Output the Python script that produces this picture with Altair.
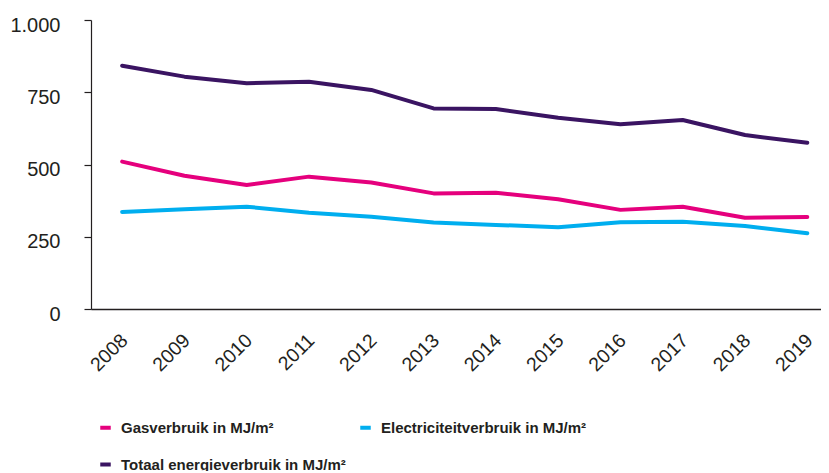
import altair as alt
import pandas as pd

years = list(range(2008, 2020))
gas = [510, 461, 429, 458, 438, 400, 402, 380, 343, 354, 316, 318]
elec = [336, 345, 354, 333, 319, 299, 291, 283, 300, 302, 287, 262]
totaal = [842, 804, 781, 786, 758, 694, 692, 662, 639, 654, 602, 575]

series_names = ["Gasverbruik in MJ/m²", "Electriciteitverbruik in MJ/m²", "Totaal energieverbruik in MJ/m²"]
series_colors = ["#E5007D", "#00AEEF", "#3A1462"]
# legend is filled column by column: Gas, Totaal | Electriciteit
legend_order = [series_names[0], series_names[2], series_names[1]]
legend_colors = [series_colors[0], series_colors[2], series_colors[1]]

rows = []
for name, vals in zip(series_names, [gas, elec, totaal]):
    for y, v in zip(years, vals):
        rows.append({"jaar": y, "waarde": v, "reeks": name, "order": series_names.index(name)})
df = pd.DataFrame(rows)

FONT = "Liberation Sans"
TXT = "#231F20"

chart = alt.Chart(df).mark_line(strokeWidth=4, strokeCap="round", strokeJoin="round").encode(
    x=alt.X("jaar:Q",
            scale=alt.Scale(domain=[2007.5, 2019.22], nice=False, zero=False),
            axis=alt.Axis(values=years, format="d", labelAngle=-45, labelAlign="right",
                          labelBaseline="middle", ticks=False, grid=False, title=None,
                          labelFont=FONT, labelFontSize=19.5, labelColor=TXT, labelPadding=28,
                          labelOffset=2, domainColor=TXT, domainWidth=1.5, labelFlush=False)),
    y=alt.Y("waarde:Q",
            scale=alt.Scale(domain=[0, 1000], nice=False),
            axis=alt.Axis(values=[0, 250, 500, 750, 1000], grid=False, title=None,
                          labelExpr="replace(format(datum.value, ','), ',', '.')",
                          labelFont=FONT, labelFontSize=20, labelColor=TXT,
                          tickSize=7, tickColor=TXT, domainColor=TXT, domainWidth=1.2,
                          labelPadding=24, labelOffset=5, tickWidth=1.2)),
    color=alt.Color("reeks:N",
                    scale=alt.Scale(domain=legend_order, range=legend_colors),
                    legend=alt.Legend(title=None, orient="none", legendX=7, legendY=400,
                                      columns=2, columnPadding=6, rowPadding=20,
                                      symbolType="stroke", symbolSize=110, symbolStrokeWidth=4,
                                      labelFont=FONT, labelFontSize=15, labelFontWeight="bold",
                                      labelColor=TXT, symbolOffset=0, labelOffset=8,
                                      labelLimit=400)),
    order="order:O",
).properties(
    width=730, height=289,
    background="white",
    autosize=alt.AutoSizeParams(type="none"),
    padding={"left": 83, "top": 12, "right": 0, "bottom": 162},
).configure_view(stroke=None)

chart.save("out.html", embed_options={"renderer": "svg", "actions": False})
